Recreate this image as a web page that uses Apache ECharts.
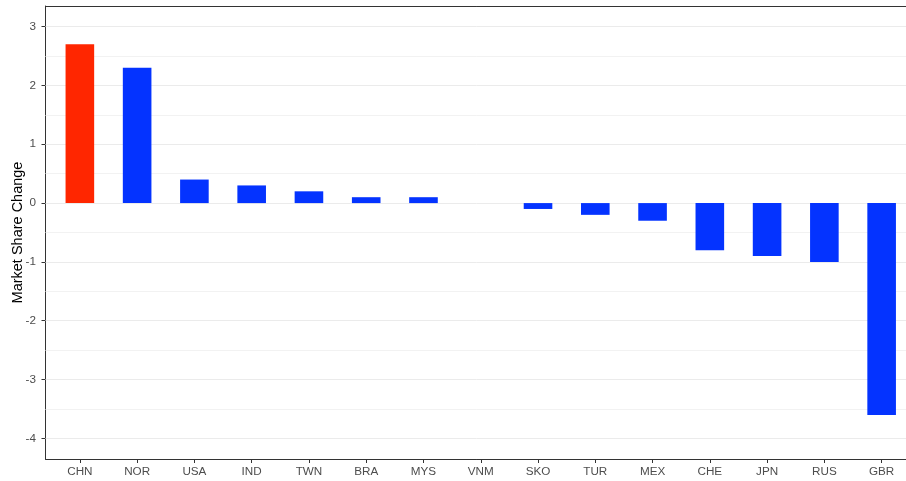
<!DOCTYPE html>
<html><head><meta charset="utf-8">
<script src="https://cdn.jsdelivr.net/npm/echarts@6/dist/echarts.min.js"></script>
<style>html,body{margin:0;padding:0;background:#fff}#c{width:906px;height:481px}</style>
</head><body><div id="c"></div>
<script>
const categories = ['CHN','NOR','USA','IND','TWN','BRA','MYS','VNM','SKO','TUR','MEX','CHE','JPN','RUS','GBR'];
const values = [2.7, 2.3, 0.4, 0.3, 0.2, 0.1, 0.1, 0, -0.1, -0.2, -0.3, -0.8, -0.9, -1.0, -3.6];
const highlighted = ['CHN'];
const yTicks = [-4, -3, -2, -1, 0, 1, 2, 3];
const yMinorGrid = [-3.5, -2.5, -1.5, -0.5, 0.5, 1.5, 2.5];
const xTicks = categories.map((c, i) => i);

const font = 'Liberation Sans, Arial, sans-serif';
const chart = echarts.init(document.getElementById('c'), null, {renderer: 'canvas'});
chart.setOption({
  animation: false,
  backgroundColor: '#fff',
  grid: {left: 45.5, top: 6, right: -10, bottom: 22, show: false, outerBoundsMode: 'none'},
  xAxis: [{
    type: 'value', min: -0.6, max: 14.6, position: 'bottom',
    axisLine: {show: true, onZero: false, lineStyle: {color: '#333', width: 1}},
    axisTick: {show: true, customValues: xTicks, length: 4, lineStyle: {color: '#333'}},
    axisLabel: {customValues: xTicks, formatter: v => categories[v], color: '#4d4d4d', fontSize: 11.7, fontFamily: font, margin: 7},
    splitLine: {show: false}
  }, {
    type: 'value', min: -0.6, max: 14.6, position: 'top',
    axisLine: {show: true, onZero: false, lineStyle: {color: '#333', width: 1}},
    axisTick: {show: false}, axisLabel: {show: false}, splitLine: {show: false}
  }],
  yAxis: {
    type: 'value', min: -4.35, max: 3.35,
    name: 'Market Share Change', nameLocation: 'middle', nameGap: 20, nameRotate: 90, nameMoveOverlap: false,
    nameTextStyle: {color: '#000', fontSize: 14.5, fontFamily: font},
    axisLine: {show: true, onZero: false, lineStyle: {color: '#333', width: 1}},
    axisTick: {show: true, customValues: yTicks, length: 4, lineStyle: {color: '#333'}},
    axisLabel: {customValues: yTicks, color: '#4d4d4d', fontSize: 11.7, fontFamily: font, margin: 9.5},
    splitLine: {show: false}
  },
  series: [{
    type: 'bar',
    xAxisIndex: 0,
    barWidth: 28.6,
    data: values.map((v, i) => ({value: [i, v], itemStyle: {color: highlighted.includes(categories[i]) ? '#FF2600' : '#0433FF'}})),
    markLine: {
      silent: true, z: 1, symbol: ['none', 'none'], label: {show: false},
      data: yMinorGrid.map(v => ({yAxis: v, lineStyle: {color: '#f2f2f2', width: 1, type: 'solid'}}))
        .concat(yTicks.map(v => ({yAxis: v, lineStyle: {color: '#ebebeb', width: 1, type: 'solid'}})))
    }
  }]
});
</script></body></html>
